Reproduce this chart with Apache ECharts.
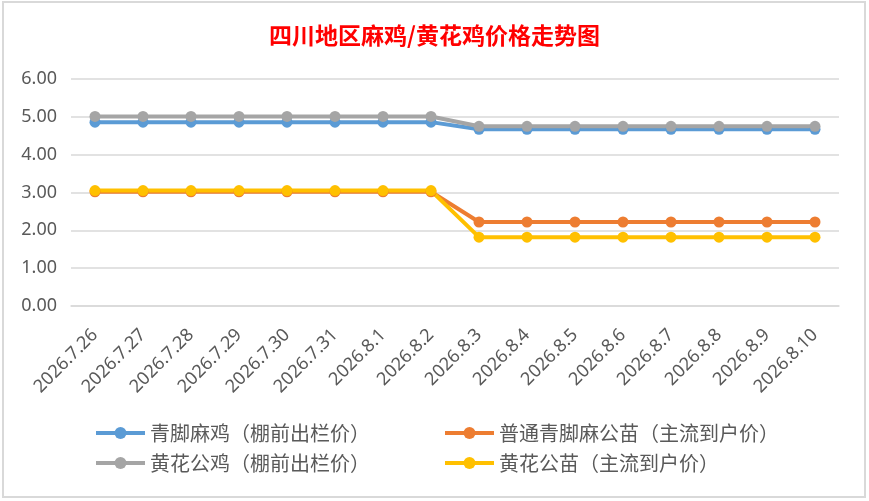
<!DOCTYPE html>
<html>
<head>
<meta charset="utf-8">
<script src="https://cdn.jsdelivr.net/npm/echarts@6/dist/echarts.min.js"></script>
<style>
html, body { margin: 0; padding: 0; background: #fff; }
#container { width: 869px; height: 501px; }
</style>
</head>
<body>
<div id="container"></div>
<script>
var dates = ['2026.7.26', '2026.7.27', '2026.7.28', '2026.7.29', '2026.7.30', '2026.7.31',
    '2026.8.1', '2026.8.2', '2026.8.3', '2026.8.4', '2026.8.5', '2026.8.6', '2026.8.7',
    '2026.8.8', '2026.8.9', '2026.8.10'];

var qingjiaoMaji = [4.86, 4.86, 4.86, 4.86, 4.86, 4.86, 4.86, 4.86, 4.67, 4.67, 4.67, 4.67, 4.67, 4.67, 4.67, 4.67];
var putongGongmiao = [3.02, 3.02, 3.02, 3.02, 3.02, 3.02, 3.02, 3.02, 2.22, 2.22, 2.22, 2.22, 2.22, 2.22, 2.22, 2.22];
var huanghuaGongji = [5.01, 5.01, 5.01, 5.01, 5.01, 5.01, 5.01, 5.01, 4.75, 4.75, 4.75, 4.75, 4.75, 4.75, 4.75, 4.75];
var huanghuaGongmiao = [3.05, 3.05, 3.05, 3.05, 3.05, 3.05, 3.05, 3.05, 1.82, 1.82, 1.82, 1.82, 1.82, 1.82, 1.82, 1.82];

var names = ['青脚麻鸡（棚前出栏价）', '普通青脚麻公苗（主流到户价）', '黄花公鸡（棚前出栏价）', '黄花公苗（主流到户价）'];
var colors = ['#5B9BD5', '#ED7D31', '#A5A5A5', '#FFC000'];

var dom = document.getElementById('container');
var myChart = echarts.init(dom);

function line(name, data, color) {
    return {
        name: name,
        type: 'line',
        data: data,
        symbol: 'circle',
        symbolSize: 11,
        itemStyle: { color: color },
        lineStyle: { color: color, width: 4 },
        animation: false
    };
}

var legendText = { color: '#595959', fontSize: 20, fontFamily: 'Noto Sans CJK SC' };

function legendCol(items, left) {
    return {
        data: items,
        orient: 'vertical',
        left: left,
        top: 423,
        padding: 0,
        itemWidth: 49,
        itemHeight: 15,
        itemGap: 10,
        lineStyle: { width: 4 },
        textStyle: legendText
    };
}

var option = {
    backgroundColor: '#fff',
    color: colors,
    title: {
        text: '四川地区麻鸡/黄花鸡价格走势图',
        left: 'center',
        top: 19,
        textStyle: { color: '#FF0000', fontSize: 23, fontWeight: 'bold', fontFamily: 'Noto Sans CJK SC' }
    },
    graphic: [{
        type: 'rect',
        shape: { x: 3, y: 2, width: 862, height: 495 },
        style: { fill: 'none', stroke: '#d9d9d9', lineWidth: 2 },
        silent: true,
        z: -1
    }],
    legend: [
        legendCol([names[0], names[2]], 94),
        legendCol([names[1], names[3]], 443)
    ],
    grid: { left: 71, right: 30, top: 79, bottom: 195, containLabel: false },
    xAxis: {
        type: 'category',
        data: dates,
        boundaryGap: true,
        axisLine: { lineStyle: { color: '#d9d9d9', width: 1.5 } },
        axisTick: { show: false },
        axisLabel: {
            rotate: 45,
            margin: 26,
            interval: 0,
            color: '#595959',
            fontSize: 18,
            fontFamily: 'Noto Sans'
        }
    },
    yAxis: {
        type: 'value',
        min: 0,
        max: 6,
        interval: 1,
        axisLine: { show: false },
        axisTick: { show: false },
        splitLine: { lineStyle: { color: '#d9d9d9', width: 1.5 } },
        axisLabel: {
            color: '#595959',
            fontSize: 18,
            margin: 14,
            fontFamily: 'Noto Sans',
            formatter: function (v) { return v.toFixed(2); }
        }
    },
    series: [
        line(names[0], qingjiaoMaji, colors[0]),
        line(names[1], putongGongmiao, colors[1]),
        line(names[2], huanghuaGongji, colors[2]),
        line(names[3], huanghuaGongmiao, colors[3])
    ]
};

if (option && typeof option === "object") {
    myChart.setOption(option, true);
}
</script>
</body>
</html>
